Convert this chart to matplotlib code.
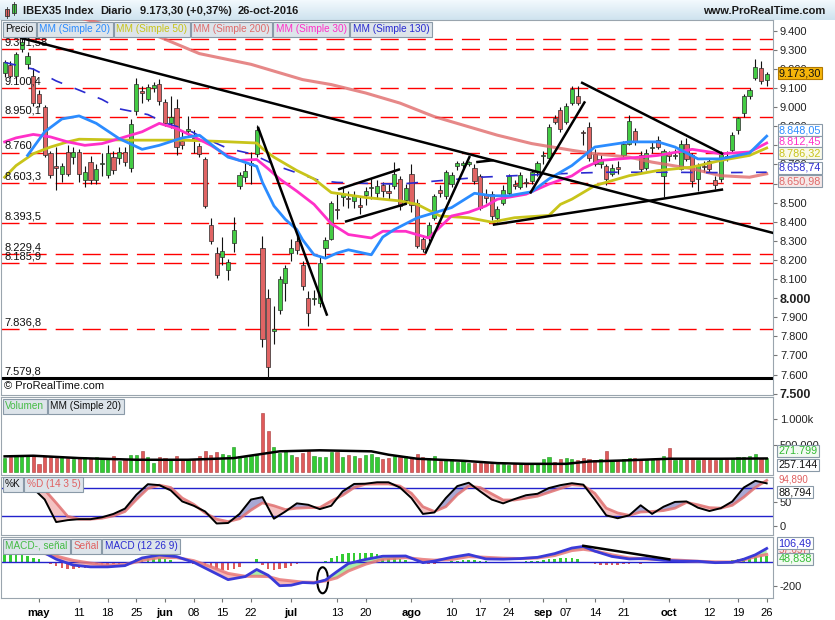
import matplotlib
matplotlib.use('Agg')
import matplotlib.pyplot as plt
import matplotlib.transforms as mtransforms
from matplotlib.patches import Rectangle, Ellipse
import numpy as np
import pandas as pd

plt.rcParams['font.family'] = ['Liberation Sans', 'DejaVu Sans']
plt.rcParams['font.size'] = 8

dates = pd.bdate_range('2016-04-22', '2016-10-26')

opens = [9176, 9220, 9163, 9305, 9225, 9163, 9067, 9001, 8758, 8691,
         8648, 8764, 8740, 8764, 8620, 8711, 8620, 8700, 8643, 8740,
         8732, 8764, 8679, 8982, 9085, 9040, 9102, 9123, 9026, 8917,
         8996, 8820, 8873, 8840, 8795, 8728, 8384, 8236, 8213, 8149,
         8288, 8585, 8632, 8697, 8754, 8262, 8000, 7829, 7938, 8079,
         8236, 8297, 8175, 8000, 7995, 7977, 8264, 8309, 8465, 8530,
         8520, 8509, 8485, 8539, 8575, 8553, 8592, 8560, 8589, 8622,
         8515, 8650, 8500, 8312, 8318, 8420, 8564, 8537, 8596, 8691,
         8696, 8700, 8680, 8638, 8540, 8543, 8420, 8497, 8548, 8597,
         8583, 8606, 8615, 8659, 8742, 8733, 8945, 8986, 8924, 9024,
         9060, 8871, 8897, 8756, 8700, 8694, 8650, 8686, 8751, 8809,
         8874, 8751, 8682, 8788, 8827, 8638, 8760, 8745, 8677, 8809,
         8747, 8624, 8690, 8716, 8620, 8624, 8742, 8774, 8880, 8968,
         9056, 9150, 9203, 9144]
highs = [9245, 9240, 9290, 9362, 9290, 9203, 9090, 9010, 8770, 8793,
         8710, 8800, 8790, 8780, 8690, 8745, 8700, 8760, 8800, 8770,
         8790, 8790, 8940, 9151, 9110, 9120, 9130, 9146, 9040, 9058,
         9044, 8880, 8952, 8880, 8810, 8737, 8421, 8270, 8318, 8203,
         8423, 8658, 8707, 8766, 8906, 8326, 8047, 7961, 8114, 8176,
         8312, 8331, 8193, 8035, 8045, 8213, 8322, 8510, 8544, 8580,
         8560, 8560, 8530, 8580, 8630, 8620, 8610, 8600, 8712, 8640,
         8600, 8700, 8520, 8330, 8400, 8545, 8590, 8670, 8660, 8720,
         8720, 8720, 8700, 8650, 8570, 8560, 8480, 8590, 8650, 8620,
         8660, 8630, 8670, 8720, 8770, 8910, 8960, 9000, 9020, 9110,
         9109, 8880, 8920, 8780, 8750, 8700, 8700, 8720, 8820, 8959,
         8890, 8770, 8780, 8820, 8850, 8780, 8770, 8780, 8830, 8840,
         8760, 8710, 8720, 8730, 8640, 8770, 8770, 8870, 8950, 9070,
         9100, 9250, 9240, 9185]
lows = [9160, 9150, 9150, 9290, 9200, 9005, 9000, 8740, 8630, 8564,
        8610, 8640, 8700, 8610, 8580, 8600, 8595, 8640, 8630, 8650,
        8700, 8690, 8660, 8960, 9020, 9030, 9080, 9010, 8900, 8890,
        8749, 8780, 8850, 8760, 8740, 8470, 8282, 8104, 8173, 8094,
        8243, 8569, 8608, 8599, 8737, 7742, 7580, 7761, 7916, 7986,
        8193, 8232, 8045, 7852, 7965, 7955, 8213, 8302, 8412, 8480,
        8470, 8470, 8440, 8490, 8520, 8520, 8530, 8520, 8570, 8460,
        8500, 8450, 8262, 8240, 8300, 8410, 8530, 8520, 8580, 8670,
        8680, 8690, 8600, 8460, 8500, 8410, 8400, 8490, 8540, 8570,
        8570, 8580, 8600, 8640, 8700, 8720, 8910, 8870, 8910, 9010,
        9010, 8804, 8720, 8690, 8680, 8592, 8640, 8650, 8740, 8800,
        8800, 8660, 8670, 8760, 8780, 8527, 8720, 8730, 8670, 8720,
        8580, 8560, 8660, 8660, 8570, 8610, 8720, 8760, 8860, 8950,
        9040, 9140, 9120, 9110]
closes = [9234, 9163, 9278, 9340, 9269, 9023, 9019, 8749, 8643, 8682,
          8691, 8648, 8764, 8652, 8661, 8617, 8674, 8705, 8762, 8670,
          8764, 8711, 8912, 9119, 9076, 9107, 9114, 9031, 8917, 8949,
          8793, 8802, 8887, 8830, 8756, 8484, 8297, 8121, 8245, 8190,
          8358, 8644, 8667, 8705, 8880, 7785, 7642, 7837, 8100, 8157,
          8265, 8253, 8065, 7922, 8003, 8184, 8306, 8500, 8460, 8545,
          8518, 8539, 8476, 8560, 8580, 8589, 8562, 8548, 8650, 8480,
          8574, 8490, 8272, 8256, 8382, 8535, 8553, 8659, 8643, 8707,
          8705, 8712, 8611, 8474, 8522, 8431, 8465, 8567, 8638, 8589,
          8645, 8602, 8659, 8707, 8751, 8897, 8924, 8888, 9008, 9097,
          9021, 8862, 8733, 8703, 8730, 8624, 8680, 8677, 8806, 8927,
          8818, 8677, 8762, 8791, 8791, 8770, 8744, 8750, 8809, 8729,
          8615, 8698, 8686, 8677, 8592, 8756, 8738, 8853, 8941, 9056,
          9091, 9209, 9139, 9173.3]

# volume in thousands
volumes = [270, 290, 300, 320, 300, 310, 150, 310, 290, 260,
           280, 270, 250, 260, 280, 270, 290, 250, 260, 300,
           210, 240, 320, 330, 390, 280, 170, 290, 270, 240,
           300, 250, 230, 240, 310, 390, 330, 380, 340, 320,
           470, 300, 290, 320, 330, 1110, 770, 470, 360, 420,
           330, 290, 350, 390, 300, 290, 280, 380, 380, 290,
           320, 300, 260, 330, 340, 290, 250, 260, 300, 280,
           300, 270, 340, 290, 260, 300, 210, 230, 250, 200,
           220, 170, 180, 180, 170, 160, 150, 160, 140, 170,
           180, 150, 160, 170, 250, 280, 190, 250, 270, 240,
           230, 260, 240, 230, 240, 390, 230, 230, 240, 270,
           260, 230, 250, 250, 240, 300, 450, 230, 240, 260,
           260, 220, 240, 250, 230, 270, 250, 260, 280, 290,
           300, 340, 270, 271.8]
vol_ma_idx = [0, 5, 13, 23, 32, 40, 44, 48, 55, 64, 67, 72, 80, 86, 91, 98, 102, 108, 116, 125, 133]
vol_ma_val = [296, 308, 264, 233, 233, 264, 327, 390, 409, 390, 327, 252, 214, 170, 157, 157, 201, 220, 252, 252, 257]

sma20_idx = [4, 7, 10, 13, 16, 20, 24, 27, 31, 34, 37, 39, 41, 44, 45, 47, 49, 51, 52, 54, 56, 58, 60, 64,
             66, 68, 72, 78, 82, 85, 88, 92, 95, 99, 103, 109, 114, 117, 121, 125, 130, 133]
sma20_val = [8747, 8871, 8938, 8954, 8915, 8835, 8779, 8800, 8839, 8853, 8783, 8738, 8721, 8690, 8606, 8483,
             8412, 8359, 8306, 8227, 8209, 8236, 8253, 8227, 8320, 8359, 8420, 8474, 8549, 8536, 8536, 8557,
             8624, 8694, 8791, 8818, 8818, 8791, 8729, 8729, 8760, 8848]
sma50_idx = [0, 2, 5, 8, 11, 13, 22, 31, 37, 44, 45, 47, 51, 54, 57, 63, 69, 72, 76, 81, 85, 89, 95, 97,
             99, 103, 109, 114, 120, 125, 130, 133]
sma50_val = [8633, 8694, 8756, 8791, 8818, 8832, 8827, 8827, 8821, 8812, 8783, 8738, 8668, 8624, 8553, 8527,
             8509, 8491, 8430, 8421, 8398, 8421, 8433, 8491, 8518, 8589, 8641, 8668, 8686, 8721, 8747, 8786]
sma200_idx = [10, 16, 22, 26, 34, 43, 52, 57, 63, 69, 75, 81, 86, 92, 99, 103, 109, 113, 120, 125, 130, 133]
sma200_val = [9490, 9445, 9400, 9380, 9280, 9224, 9144, 9118, 9074, 9021, 8950, 8897, 8853, 8809, 8774, 8756,
              8738, 8712, 8677, 8641, 8633, 8651]
sma30_idx = [0, 2, 5, 8, 11, 14, 17, 20, 24, 27, 30, 33, 36, 39, 41, 44, 46, 48, 51, 54, 57, 60, 64, 66,
             70, 74, 78, 81, 84, 86, 91, 95, 99, 101, 104, 109, 114, 120, 125, 130, 133]
sma30_val = [8818, 8839, 8857, 8844, 8818, 8800, 8809, 8835, 8871, 8915, 8888, 8845, 8800, 8744, 8721, 8726,
             8677, 8624, 8560, 8491, 8390, 8333, 8315, 8350, 8350, 8315, 8430, 8450, 8483, 8518, 8544, 8597,
             8640, 8680, 8721, 8733, 8747, 8779, 8756, 8765, 8812]
sma130_idx = [0, 5, 9, 13, 17, 20, 25, 28, 32, 34, 39, 43, 48, 51, 55, 58, 64, 69, 76, 83, 92, 100, 105,
              115, 125, 133]
sma130_val = [9234, 9199, 9137, 9089, 9040, 8991, 8961, 8917, 8881, 8850, 8783, 8756, 8687, 8656, 8615, 8606,
              8600, 8597, 8615, 8633, 8645, 8655, 8659, 8659, 8657, 8659]

# stochastic %K / %D (14 3 5)
stoch_idx = [5, 7, 9, 11, 13, 15, 17, 19, 21, 23, 25, 27, 29, 31, 33, 35, 37, 39, 41, 43, 45, 47, 49, 51,
             53, 55, 57, 59, 61, 63, 65, 67, 69, 71, 73, 75, 77, 79, 81, 83, 85, 87, 89, 91, 93, 95, 97, 99,
             101, 103, 105, 107, 109, 111, 113, 115, 117, 119, 121, 123, 125, 127, 129, 131, 133]
stoch_k = [78, 55, 8, 12, 14, 14, 18, 25, 36, 65, 87, 85, 74, 51, 42, 30, 5, 6, 25, 55, 60, 15, 30, 47,
           44, 35, 42, 72, 87.5, 88, 91, 91, 80, 58, 25, 28, 58, 83, 90, 72, 55, 47, 56, 64, 67, 79, 85, 89,
           86, 55, 22, 16, 22, 43, 25, 40, 50, 51, 38, 31, 37, 51, 80, 94, 88.8]
stoch_d = [85, 75, 48, 20, 14, 14, 16, 21, 30, 55, 78, 85, 80, 58, 45, 27, 14, 9, 15, 33, 48, 42, 34, 37,
           38, 38, 52, 64, 80, 87, 87.5, 87.5, 83, 68, 40, 30, 40, 65, 83, 80, 67, 54, 54, 58, 62, 70, 78, 86,
           84, 68, 37, 27, 22, 29, 30, 32, 37, 49, 44, 38, 37, 43, 60, 80, 94.9]

# MACD (12 26 9)
macd_idx = [0, 3, 6, 9, 12, 15, 18, 21, 24, 27, 30, 33, 36, 39, 42, 44, 46, 48, 50, 52, 54, 56, 58, 60, 63,
            66, 70, 73, 75, 78, 81, 84, 87, 90, 93, 96, 99, 101, 103, 106, 109, 112, 115, 118, 121, 124, 127,
            129, 131, 133]
macd_line = [142, 125, 95, 20, -28, -42, -42, -32, 30, 54, 41, -5, -75, -145, -120, -63, -110, -194, -190,
             -168, -172, -148, -80, -15, 18, 44, 46, -8, 5, 35, 58, 22, 20, 25, 35, 65, 110, 123, 85, 42, 22,
             25, 11, 5, 3, -8, -5, 20, 55, 106.5]
macd_signal = [74, 76, 76, 45, 10, -12, -27, -24, 10, 33, 33, 8, -40, -95, -118, -118, -120, -145, -155, -165,
               -167, -155, -130, -75, -20, 19, 33, 18, 12, 18, 41, 35, 28, 25, 30, 50, 90, 100, 87, 55, 30, 22,
               17, 11, 3, -2, -3, 14, 40, 57.7]
macd_hist = [68, 74, 60, 52, 46, 33, 19, -14, -22, -36,
             -49, -57, -57, -55, -49, -44, -41, -36, -30, -22,
             -16, -8, -3, 19, 27, 33, 33, 27, 22, 14,
             -5, -10, -14, -22, -27, -38, -49, -60, -68, -71,
             -60, -41, -14, -5, 25, -30, -60, -68, -60, -49,
             -33, -22, -14, -8, -5, -3, 8, 30, 46, 60,
             68, 71, 71, 68, 66, 60, 52, 44, 35, 25,
             14, -5, -10, -16, -19, -16, -8, -3, 5, 8,
             11, 14, 14, 8, 3, -5, -8, -11, -8, -5,
             -3, 3, 5, 8, 14, 19, 25, 30, 33, 30,
             25, -5, -14, -22, -25, -27, -27, -25, -22, -16,
             -14, -16, -14, -11, -11, -8, -8, -8, -5, -8,
             -11, -11, -8, -8, -5, -3, 3, 11, 22, 30,
             38, 44, 46, 48.8]

levels = [9358.2, 9301.58, 9100.4, 8950.1, 8760.0, 8603.3, 8393.5, 8229.4, 8185.9, 7836.8]
level_labels = ["9.358,2", "9.301,58", "9.100,4", "8.950,1", "8.760", "8.603,3", "8.393,5",
                "8.229,4", "8.185,9", "7.836,8"]
support_level = 7579.8

trend_lines = [
    [(2.7, 9363), (134.8, 8336)],
    [(44.2, 8897), (56.3, 7908)],
    [(58.2, 8569), (69.0, 8675)],
    [(59.4, 8400), (70.2, 8495)],
    [(73.4, 8233), (81.2, 8744)],
    [(82.3, 8712), (85.3, 8722)],
    [(85.2, 8384), (125.4, 8569)],
    [(100.6, 9130), (125.4, 8754)],
    [(91.7, 8548), (101.3, 9030)],
]
macd_trend = [(101, 128), (116, 19)]

date_ticks = ['2016-05-02', '2016-05-11', '2016-05-18', '2016-05-25', '2016-06-01', '2016-06-08',
              '2016-06-15', '2016-06-22', '2016-07-01', '2016-07-13', '2016-07-20', '2016-08-01',
              '2016-08-10', '2016-08-17', '2016-08-24', '2016-09-01', '2016-09-07', '2016-09-14',
              '2016-09-21', '2016-10-03', '2016-10-12', '2016-10-19', '2016-10-26']
date_labels = ['may', '11', '18', '25', 'jun', '08', '15', '22', 'jul', '13', '20', 'ago',
               '10', '17', '24', 'sep', '07', '14', '21', 'oct', '12', '19', '26']


def es(v, dec=0):
    s = f"{v:,.{dec}f}"
    return s.replace(',', 'X').replace('.', ',').replace('X', '.')


W, H = 835, 620
fig = plt.figure(figsize=(W / 100, H / 100), dpi=100)
fig.patch.set_facecolor('white')


def box(x0, y0, x1, y1):
    return [x0 / W, 1 - y1 / H, (x1 - x0) / W, (y1 - y0) / H]


GREEN = '#44cc44'
RED = '#e06464'
SPINE = '#9aa5ae'
x = np.arange(len(closes))
o = np.array(opens)
c = np.array(closes)
up = c >= o

# title bar
ax_t = fig.add_axes(box(0, 0, W, 20))
grad = np.linspace(0, 1, 20).reshape(-1, 1)
ax_t.imshow(grad, extent=[0, W, 20, 0], aspect='auto',
            cmap=matplotlib.colors.LinearSegmentedColormap.from_list('t', ['#f2f9fd', '#cfe3ef']))
ax_t.set_xlim(0, W)
ax_t.set_ylim(20, 0)
ax_t.axis('off')
ax_t.add_patch(Rectangle((5, 9), 4, 7, fc=RED, ec='#333', lw=0.6))
ax_t.plot([7, 7], [7, 18], color='#333', lw=0.6)
ax_t.add_patch(Rectangle((12, 4), 4, 9, fc=GREEN, ec='#333', lw=0.6))
ax_t.plot([14, 14], [2, 15], color='#333', lw=0.6)
for xp, s in [(23, "IBEX35 Index"), (100, "Diario"), (140, "9.173,30 (+0,37%)"), (238, "26-oct-2016")]:
    ax_t.text(xp, 10.5, s, va='center', fontsize=8, fontweight='bold', color='#1a1a1a')
ax_t.text(825, 10.5, "www.ProRealTime.com", va='center', ha='right', fontsize=8, fontweight='bold',
          color='#1a1a1a')

ax_p = fig.add_axes(box(1, 20, 773, 395))
ax_v = fig.add_axes(box(1, 397, 773, 475))
ax_s = fig.add_axes(box(1, 477, 773, 535))
ax_m = fig.add_axes(box(1, 537, 773, 598))

for ax in (ax_p, ax_v, ax_s, ax_m):
    ax.set_xlim(-0.63, 134.1)
    ax.yaxis.tick_right()
    ax.tick_params(axis='y', length=3, pad=2, labelsize=8, color='#777', labelcolor='#222')
    ax.tick_params(axis='x', length=0, labelbottom=False)
    for sp in ax.spines.values():
        sp.set_color(SPINE)
        sp.set_linewidth(0.8)

# price panel
ax_p.set_ylim(7493, 9456)
trl = mtransforms.blended_transform_factory(ax_p.transAxes, ax_p.transData)
for lv in levels:
    ax_p.axhline(lv, color='red', lw=1.0, dashes=(13, 6.5), zorder=1)
for lv, lb in zip(levels, level_labels):
    ax_p.text(0.004, lv + 8, lb, transform=trl, fontsize=8, color='#111', va='bottom', ha='left', zorder=6)
ax_p.axhline(support_level, color='black', lw=2.2, zorder=2)
ax_p.text(0.004, support_level + 8, "7.579,8", transform=trl, fontsize=8, color='#111', va='bottom', zorder=6)

ax_p.vlines(x, lows, highs, color='#111', lw=0.8, zorder=3)
body_lo = np.minimum(o, c)
body_h = np.maximum(np.abs(c - o), 4)
ax_p.bar(x, body_h, bottom=body_lo, width=0.72, color=np.where(up, GREEN, RED),
         edgecolor='#2a2a2a', linewidth=0.5, zorder=4)

ax_p.plot(sma200_idx, sma200_val, color='#e06a6a', lw=2.2, alpha=0.8, zorder=5)
ax_p.plot(sma130_idx, sma130_val, color='#2a2ad0', lw=1.2, dashes=(7, 8), zorder=5)
ax_p.plot(sma50_idx, sma50_val, color='#c8c41a', lw=2.0, zorder=5)
ax_p.plot(sma30_idx, sma30_val, color='#ff30c8', lw=2.0, zorder=5)
ax_p.plot(sma20_idx, sma20_val, color='#2b8cff', lw=2.0, zorder=5)

for seg in trend_lines:
    xs, ys = zip(*seg)
    ax_p.plot(xs, ys, color='black', lw=1.8, zorder=7, solid_capstyle='butt')

p_ticks = list(range(7500, 9401, 100))
ax_p.set_yticks(p_ticks)
ax_p.set_yticklabels([es(t) for t in p_ticks])
for lab, t in zip(ax_p.get_yticklabels(), p_ticks):
    if t in (7500, 8000):
        lab.set_fontweight('bold')
        lab.set_fontsize(9)

ax_p.text(0.004, 7515, "\u00a9 ProRealTime.com", transform=trl, fontsize=8, color='#111', va='bottom', zorder=6)

trp = mtransforms.blended_transform_factory(ax_p.transAxes, ax_p.transData)
val_boxes = [("9.173,30", 9177, '#111', '#f5b50a', '#b07800'),
             ("8.848,05", 8880, '#2b8cff', 'white', '#8a9aa8'),
             ("8.812,45", 8820, '#ff30c8', 'white', '#8a9aa8'),
             ("8.786,32", 8758, '#c8c41a', '#fafae8', '#8a9aa8'),
             ("8.658,74", 8683, '#2a2ad0', 'white', '#8a9aa8'),
             ("8.650,98", 8613, '#e06a6a', '#f6e8e8', '#8a9aa8')]
for txt, yv, tc, fc, ec in val_boxes:
    ax_p.text(1.007, yv, txt, transform=trp, color=tc, fontsize=7.8, va='center', ha='left', zorder=10,
              clip_on=False, bbox=dict(boxstyle='square,pad=0.08', fc=fc, ec=ec, lw=0.8))

# volume panel
ax_v.set_ylim(-51, 1402)
ax_v.bar(x, volumes, width=0.55, color=np.where(up, '#33cc33', '#e05a5a'),
         edgecolor=np.where(up, '#1f8f1f', '#a83a3a'), linewidth=0.4)
ax_v.plot(vol_ma_idx, vol_ma_val, color='black', lw=1.8)
ax_v.set_yticks([500, 1000])
ax_v.set_yticklabels(['500.000', '1.000k'])
trv = mtransforms.blended_transform_factory(ax_v.transAxes, ax_v.transData)
ax_v.text(1.007, 400, "271.799", transform=trv, color='#33bb33', fontsize=7.8, va='center', clip_on=False,
          bbox=dict(boxstyle='square,pad=0.1', fc='#f2faf2', ec='#8a9aa8', lw=0.8))
ax_v.text(1.007, 135, "257.144", transform=trv, color='#111', fontsize=7.8, va='center', clip_on=False,
          bbox=dict(boxstyle='square,pad=0.1', fc='white', ec='#8a9aa8', lw=0.8))

# stochastic panel
ax_s.set_ylim(-19, 102)
ks = np.array(stoch_k)
ds = np.array(stoch_d)
ax_s.fill_between(stoch_idx, ks, ds, where=ks >= ds, interpolate=True, color='#a8a8d4', lw=0)
ax_s.fill_between(stoch_idx, ks, ds, where=ks < ds, interpolate=True, color='#f4c2c2', lw=0)
ax_s.axhline(80, color='#2222cc', lw=1)
ax_s.axhline(20, color='#2222cc', lw=1)
ax_s.plot(stoch_idx, ds, color='#e07070', lw=2.0, alpha=0.85)
ax_s.plot(stoch_idx, ks, color='black', lw=1.4)
ax_s.set_yticks([0, 50])
ax_s.set_yticklabels(['0', '50'])
trs = mtransforms.blended_transform_factory(ax_s.transAxes, ax_s.transData)
ax_s.text(1.007, 97, "94,890", transform=trs, color='#e06060', fontsize=7, va='center', clip_on=False)
ax_s.text(1.007, 70, "88,794", transform=trs, color='#111', fontsize=7.8, va='center', clip_on=False,
          bbox=dict(boxstyle='square,pad=0.1', fc='white', ec='#8a9aa8', lw=0.8))

# MACD panel
ax_m.set_ylim(-293, 199)
mh = np.array(macd_hist)
ax_m.bar(x, mh, width=0.45, color=np.where(mh >= 0, '#33cc33', '#e05a5a'), linewidth=0)
ml = np.array(macd_line)
ms = np.array(macd_signal)
ax_m.fill_between(macd_idx, ml, ms, where=ml >= ms, interpolate=True, color='#a8eea8', lw=0)
ax_m.fill_between(macd_idx, ml, ms, where=ml < ms, interpolate=True, color='#f4b8b8', lw=0)
ax_m.axhline(0, color='#2222cc', lw=1)
ax_m.plot(macd_idx, ms, color='#e87878', lw=2.2, alpha=0.85)
ax_m.plot(macd_idx, ml, color='#3a3ad8', lw=2.0)
ax_m.plot(*zip(*macd_trend), color='black', lw=1.8)
ax_m.add_patch(Ellipse((55.5, -150), 1.9, 210, fill=False, ec='black', lw=1.5))
ax_m.set_yticks([-200])
ax_m.set_yticklabels(['-200'])
trm = mtransforms.blended_transform_factory(ax_m.transAxes, ax_m.transData)
ax_m.text(1.007, 95, "57,657", transform=trm, color='#e06060', fontsize=7, va='center', clip_on=False,
          bbox=dict(boxstyle='square,pad=0.1', fc='#f6e8e8', ec='#8a9aa8', lw=0.8))
ax_m.text(1.007, 22, "48,838", transform=trm, color='#33bb33', fontsize=7.8, va='center', clip_on=False,
          bbox=dict(boxstyle='square,pad=0.1', fc='#f2faf2', ec='#8a9aa8', lw=0.8))
ax_m.text(1.007, 148, "106,49", transform=trm, color='#2a2ad0', fontsize=7.8, va='center', clip_on=False,
          bbox=dict(boxstyle='square,pad=0.1', fc='white', ec='#8a9aa8', lw=0.8))

date_pos = [dates.get_loc(pd.Timestamp(d)) for d in date_ticks]
ax_m.set_xticks(date_pos)
ax_m.set_xticklabels(date_labels)
ax_m.tick_params(axis='x', length=3, pad=4, labelbottom=True, labelsize=8, color='#777')
for lab in ax_m.get_xticklabels():
    if not lab.get_text().isdigit():
        lab.set_fontweight('bold')

# legend boxes, chained left to right
renderer = fig.canvas.get_renderer()


def tags(x0, yp, items, fs=7.2):
    xp = x0
    for s, col in items:
        t = fig.text(xp / W, 1 - yp / H, s, color=col, fontsize=fs, va='center', ha='left', zorder=20,
                     bbox=dict(boxstyle='square,pad=0.25', fc='#dde4ea', ec='#8a9aa8', lw=0.8))
        bb = t.get_window_extent(renderer=renderer)
        xp = bb.x1 + 2 * 0.25 * fs * 100 / 72 + 1


tags(5, 29, [("Precio", '#111'), ("MM (Simple 20)", '#2b8cff'), ("MM (Simple 50)", '#c8c41a'),
             ("MM (Simple 200)", '#e06a6a'), ("MM (Simple 30)", '#ff30c8'), ("MM (Simple 130)", '#2a2ad0')])
tags(5, 406, [("Volumen", '#44bb44'), ("MM (Simple 20)", '#111')])
tags(5, 484, [("%K", '#111'), ("%D (14 3 5)", '#e06060')])
tags(5, 546, [("MACD-, se\u00f1al", '#44bb44'), ("Se\u00f1al", '#e06060'), ("MACD (12 26 9)", '#2a2ad0')])

fig.savefig('out.png', dpi=100)
